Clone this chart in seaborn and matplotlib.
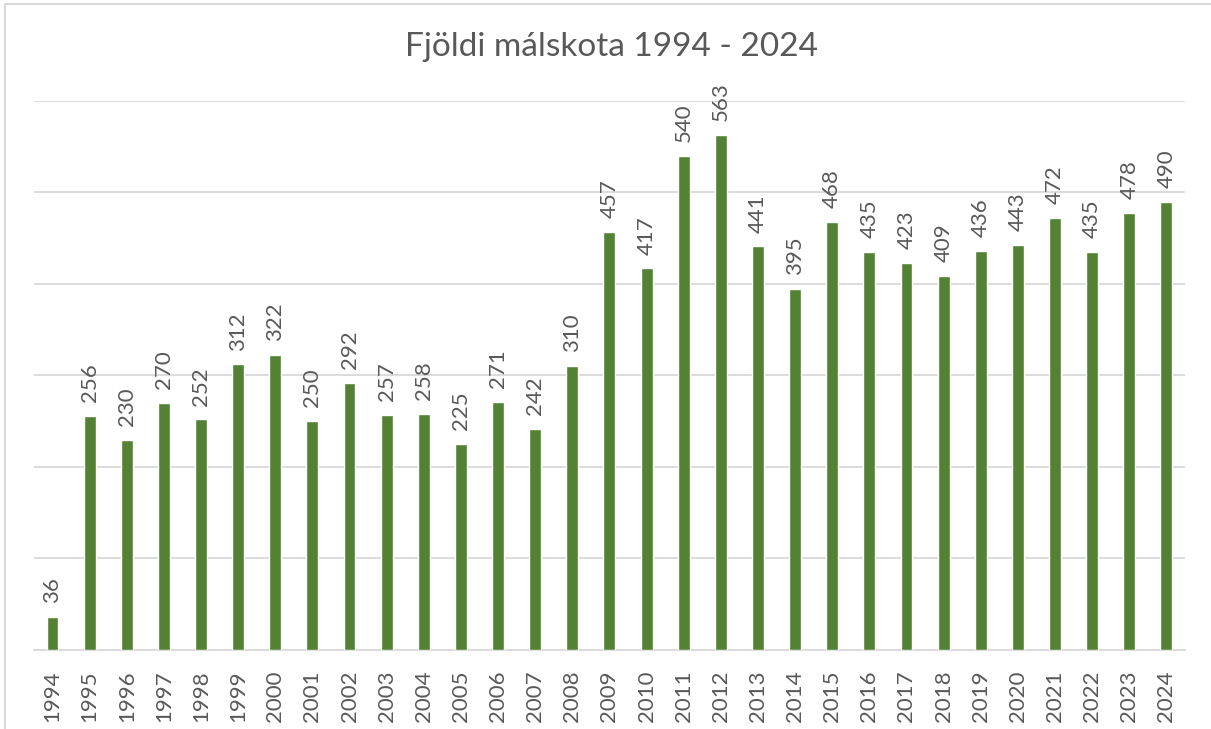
import matplotlib
matplotlib.use("Agg")
import matplotlib.pyplot as plt
import seaborn as sns
import pandas as pd
from matplotlib.patches import Rectangle

# Data
years = [str(y) for y in range(1994, 2025)]
counts = [36, 256, 230, 270, 252, 312, 322, 250, 292, 257, 258, 225, 271, 242, 310,
          457, 417, 540, 563, 441, 395, 468, 435, 423, 409, 436, 443, 472, 435, 478, 490]

df = pd.DataFrame({"Ár": years, "Fjöldi": counts})

sns.set_theme(style="white")
plt.rcParams["font.family"] = ["Lato", "DejaVu Sans"]

text_color = "#595959"
grid_color = "#d9d9d9"
bar_color = "#548235"

fig = plt.figure(figsize=(12.11, 7.29), dpi=100)
ax = fig.add_axes([0.028, 0.1084, 0.9505, 0.7531])

sns.barplot(data=df, x="Ár", y="Fjöldi", color=bar_color, width=0.32,
            saturation=1, ax=ax, zorder=3)

ax.set_ylim(0, 600)
ax.set_xlim(-0.5, len(years) - 0.5)
ax.set_yticks(range(0, 601, 100))
ax.yaxis.grid(True, color=grid_color, linewidth=1.3, zorder=0)
ax.set_yticklabels([])
ax.tick_params(axis="y", length=0)
ax.tick_params(axis="x", length=0, pad=15, labelsize=16, labelcolor=text_color,
               labelrotation=90)
ax.set_xlabel("")
ax.set_ylabel("")
for side in ["top", "right", "left"]:
    ax.spines[side].set_visible(False)
ax.spines["bottom"].set_color(grid_color)
ax.spines["bottom"].set_linewidth(1.3)

ax.bar_label(ax.containers[0], labels=[str(v) for v in counts], rotation=90,
             padding=10, fontsize=16, color=text_color)

fig.text(0.505, 1 - 47 / 729, "Fjöldi málskota 1994 - 2024", ha="center",
         va="center", fontsize=24, color=text_color)

# light chart border (top and left edges visible)
fig.patches.append(Rectangle((4.5 / 1211, -0.05), 1.2, 1 - 3.5 / 729 + 0.05,
                             transform=fig.transFigure, fill=False,
                             edgecolor=grid_color, linewidth=1.5))

fig.savefig("out.png", dpi=100, facecolor="white")
